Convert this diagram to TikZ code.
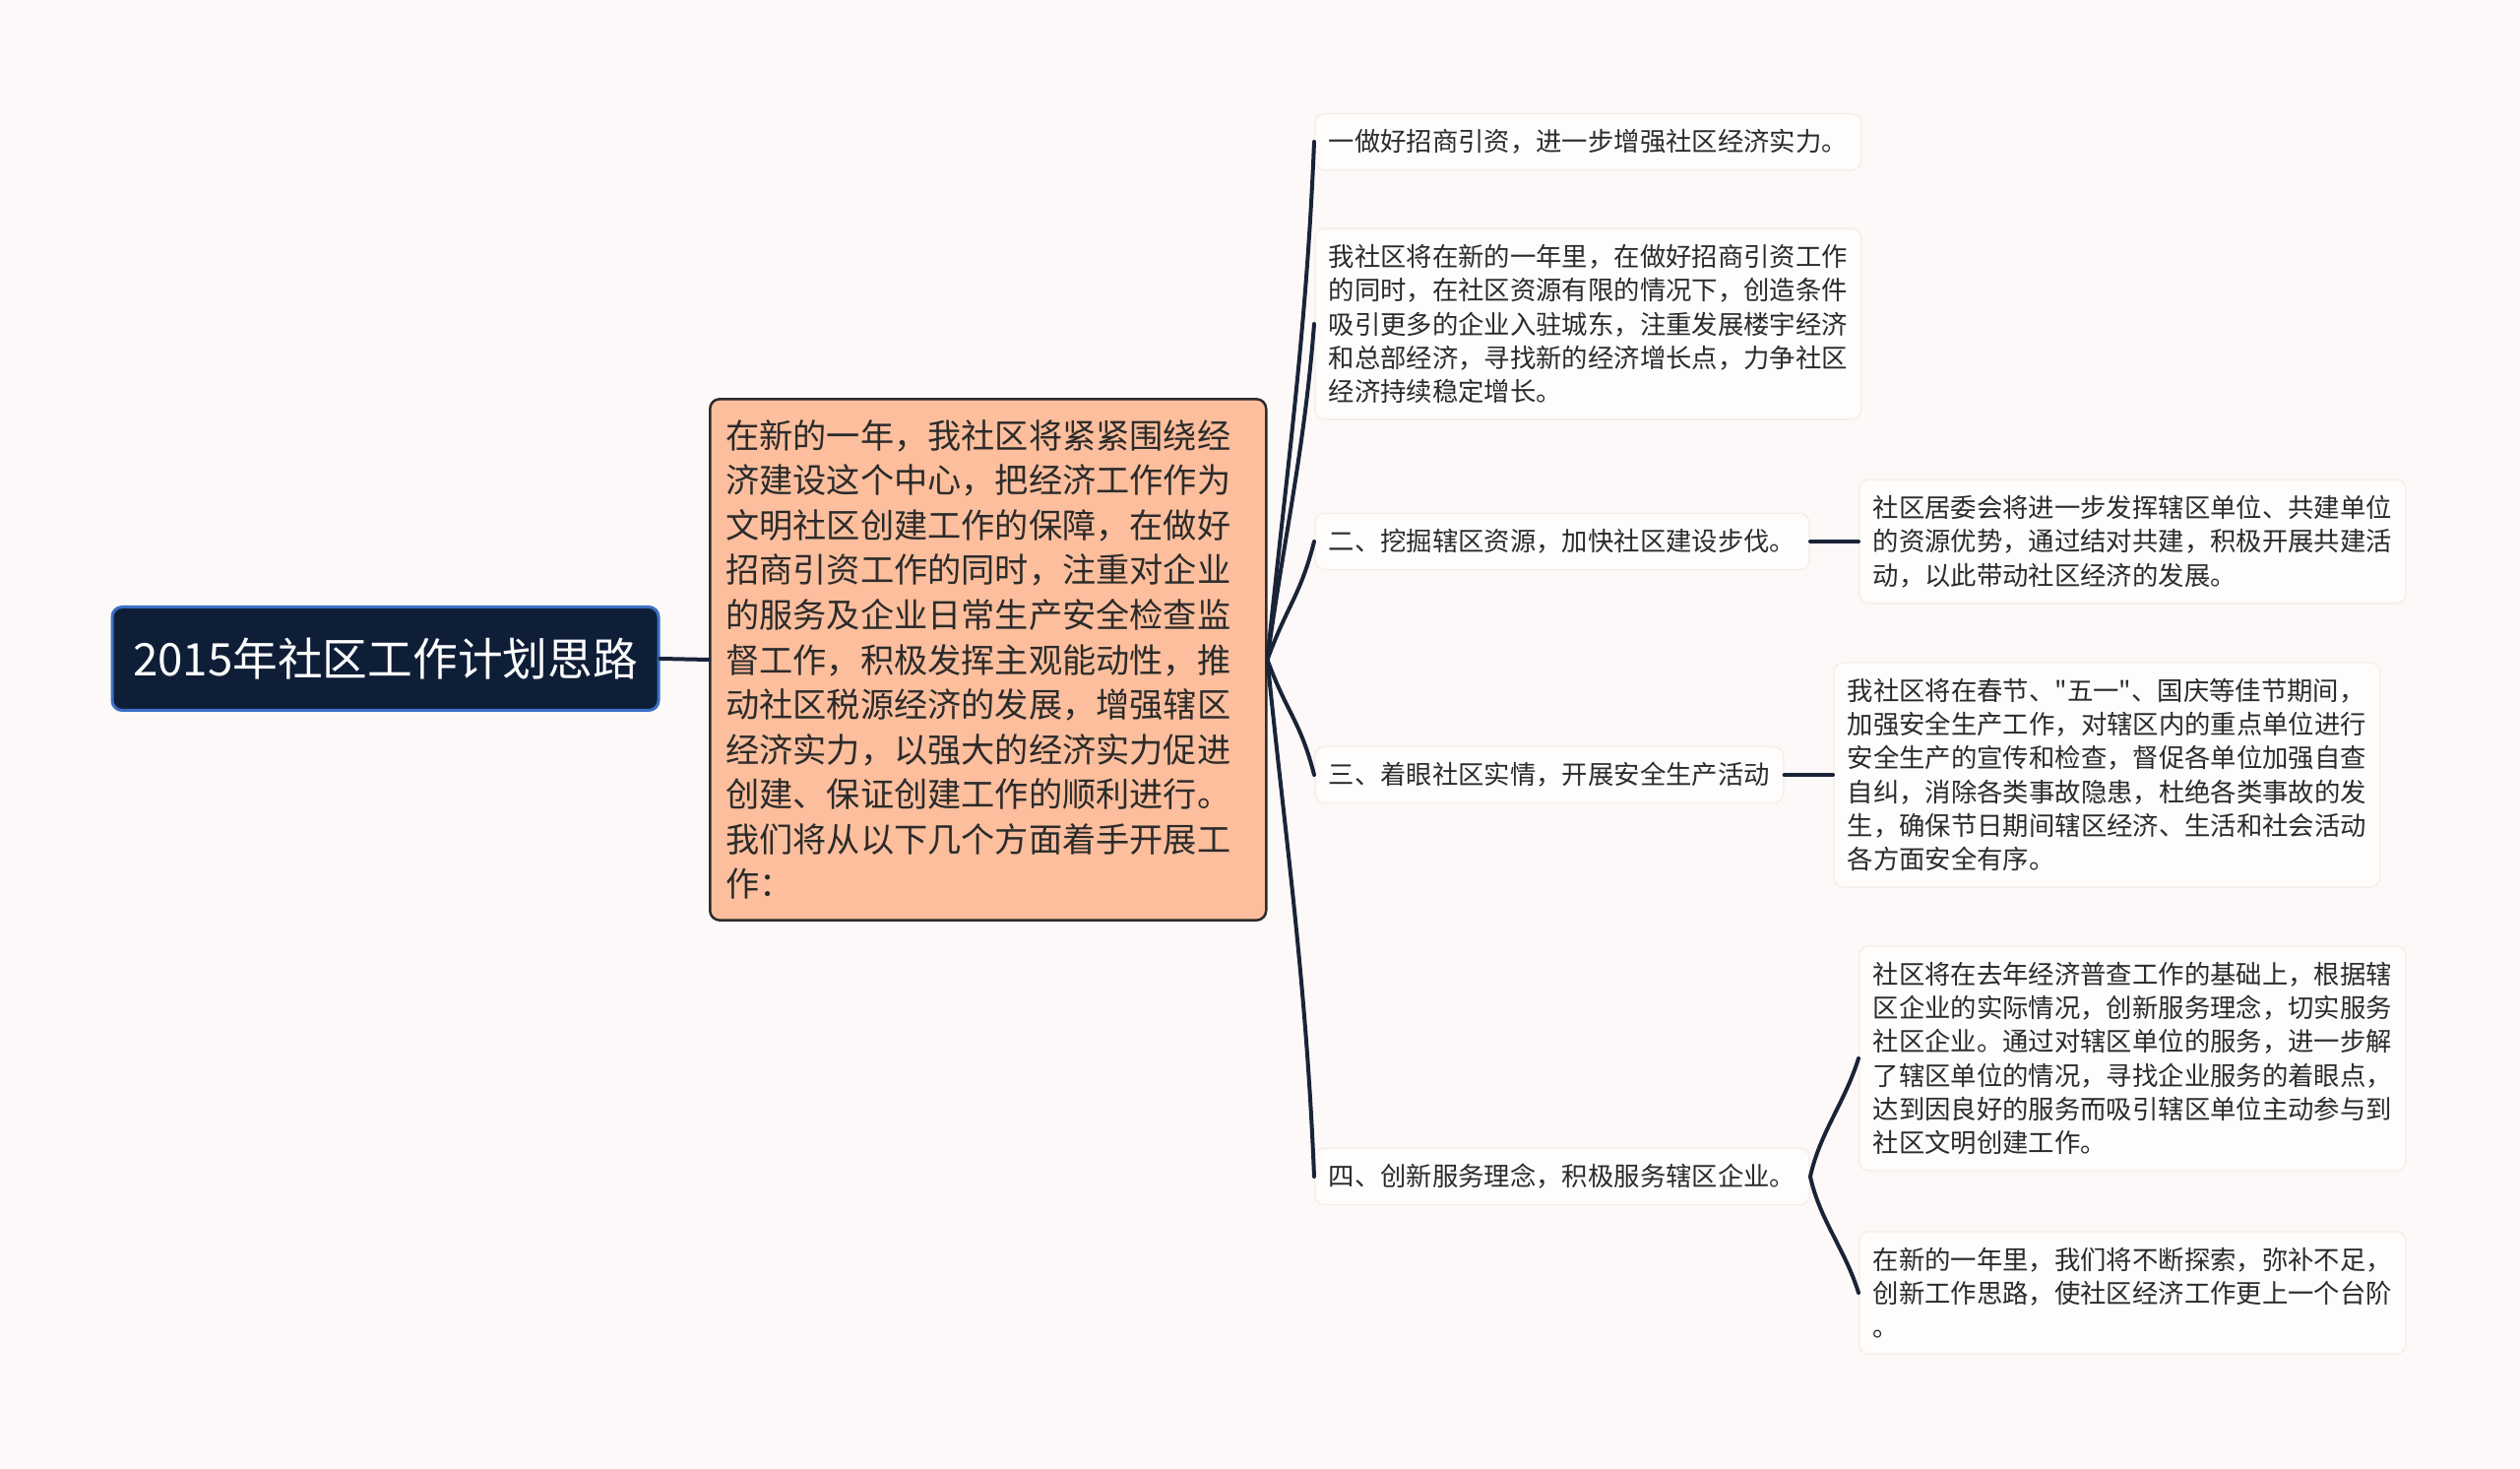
\documentclass[tikz,border=0pt]{standalone}
\usepackage{fontspec}
\newfontfamily\cjk{Noto Sans CJK SC}
\definecolor{paper}{HTML}{FCF9F8}
\definecolor{navy}{HTML}{0F1E37}
\definecolor{navyedge}{HTML}{3B6FC4}
\definecolor{peach}{HTML}{FCBE9C}
\definecolor{ink}{HTML}{2B2B2B}
\definecolor{wire}{HTML}{1A2438}
\definecolor{card}{HTML}{FFFDFC}
\definecolor{cardedge}{HTML}{F4EFEC}

\begin{document}
\begin{tikzpicture}[
  x=0.1mm, y=-0.1mm,
  link/.style={wire, line width=0.4mm, line cap=round},
  rootbox/.style={fill=navy, draw=navyedge, line width=0.3mm, rounded corners=1mm,
    text=white, font=\cjk\fontsize{13pt}{15pt}\selectfont,
    minimum width=55.5mm, minimum height=10.5mm, inner sep=0pt},
  mainbox/.style={fill=peach, draw=ink, line width=0.25mm, rounded corners=1mm,
    text=ink, font=\cjk\fontsize{9.73pt}{12.97pt}\selectfont,
    text width=53.3mm, align=left, inner xsep=1.6mm, inner ysep=2.1mm, anchor=west},
  topicbox/.style={fill=card, draw=cardedge, line width=0.15mm, rounded corners=1mm,
    text=ink, font=\cjk\fontsize{7.5pt}{9.76pt}\selectfont,
    align=left, inner xsep=1.4mm, inner ysep=1.6mm, anchor=west},
]

% ══════════════════════════════════════════════════════
% Background
% ══════════════════════════════════════════════════════
\fill[paper] (0,0) rectangle (2560,1492);
\useasboundingbox (0,0) rectangle (2560,1492);

% ══════════════════════════════════════════════════════
% Root and central paragraph
% ══════════════════════════════════════════════════════
\node[rootbox] (root) at (391.5,669) {2015年社区工作计划思路};

\node[mainbox] (main) at (720,670) {%
在新的一年，我社区将紧紧围绕经\\
济建设这个中心，把经济工作作为\\
文明社区创建工作的保障，在做好\\
招商引资工作的同时，注重对企业\\
的服务及企业日常生产安全检查监\\
督工作，积极发挥主观能动性，推\\
动社区税源经济的发展，增强辖区\\
经济实力，以强大的经济实力促进\\
创建、保证创建工作的顺利进行。\\
我们将从以下几个方面着手开展工\\
作：};

% ══════════════════════════════════════════════════════
% Topics
% ══════════════════════════════════════════════════════
\node[topicbox] (c1) at (1335,144) {一做好招商引资，进一步增强社区经济实力。};
\node[topicbox] (c2) at (1335,329) {%
我社区将在新的一年里，在做好招商引资工作\\
的同时，在社区资源有限的情况下，创造条件\\
吸引更多的企业入驻城东，注重发展楼宇经济\\
和总部经济，寻找新的经济增长点，力争社区\\
经济持续稳定增长。};
\node[topicbox] (c3) at (1335,550) {二、挖掘辖区资源，加快社区建设步伐。};
\node[topicbox] (c4) at (1335,787) {三、着眼社区实情，开展安全生产活动};
\node[topicbox] (c5) at (1335,1195) {四、创新服务理念，积极服务辖区企业。};

% ══════════════════════════════════════════════════════
% Details
% ══════════════════════════════════════════════════════
\node[topicbox] (g3) at (1888,550) {%
社区居委会将进一步发挥辖区单位、共建单位\\
的资源优势，通过结对共建，积极开展共建活\\
动，以此带动社区经济的发展。};
\node[topicbox] (g4) at (1862,787) {%
我社区将在春节、"五一"、国庆等佳节期间，\\
加强安全生产工作，对辖区内的重点单位进行\\
安全生产的宣传和检查，督促各单位加强自查\\
自纠，消除各类事故隐患，杜绝各类事故的发\\
生，确保节日期间辖区经济、生活和社会活动\\
各方面安全有序。};
\node[topicbox] (g5a) at (1888,1075) {%
社区将在去年经济普查工作的基础上，根据辖\\
区企业的实际情况，创新服务理念，切实服务\\
社区企业。通过对辖区单位的服务，进一步解\\
了辖区单位的情况，寻找企业服务的着眼点，\\
达到因良好的服务而吸引辖区单位主动参与到\\
社区文明创建工作。};
\node[topicbox] (g5b) at (1888,1313) {%
在新的一年里，我们将不断探索，弥补不足，\\
创新工作思路，使社区经济工作更上一个台阶\\
。};

% ══════════════════════════════════════════════════════
% Connectors
% ══════════════════════════════════════════════════════
\draw[link] (root.east) -- (main.west);

% fan from the paragraph: target / start pull / end pull
\foreach \c/\sx/\sy/\ex/\ey in {%
  c1/18/-180/-8/200,%
  c2/16/-120/-10/130,%
  c3/20/-55/-14/55,%
  c4/20/55/-14/-55,%
  c5/18/180/-8/-200%
}{
  \draw[link] (main.east) .. controls +(\sx,\sy) and +(\ex,\ey) .. (\c.west);
}

\draw[link] (c3.east) -- (g3.west);
\draw[link] (c4.east) -- (g4.west);
\draw[link] (c5.east) .. controls +(10,-45) and +(-14,45) .. (g5a.west);
\draw[link] (c5.east) .. controls +(10,45) and +(-14,-45) .. (g5b.west);

\end{tikzpicture}
\end{document}
